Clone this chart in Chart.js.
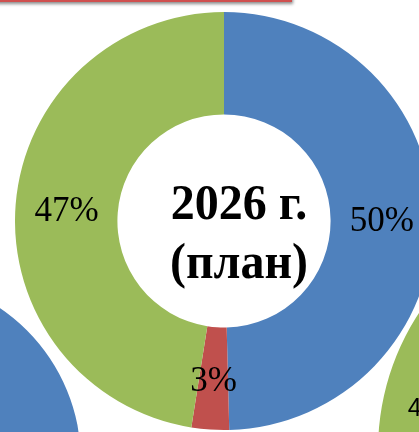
<!DOCTYPE html>
<html lang="ru">
<head>
    <meta charset="UTF-8">
    <title>2026 г. (план)</title>
    <script src="https://cdn.jsdelivr.net/npm/chart.js"></script>
    <style>
        html, body {
            margin: 0;
            padding: 0;
            width: 419px;
            height: 432px;
            overflow: hidden;
            background: #fff;
        }

        .frame {
            position: absolute;
            left: -4px;
            top: -30px;
            width: 296px;
            height: 32px;
            box-sizing: border-box;
            border: 2px solid #d0504f;
            background: #fff;
            box-shadow: 1px 2px 3px rgba(0, 0, 0, 0.45);
        }

        canvas {
            position: absolute;
        }

        #mainChart { left: 15px; top: 12px; }
        #leftChart { left: -289px; top: 276px; }
        #rightChart { left: 378px; top: 200px; }
    </style>
</head>
<body>
    <div class="frame"></div>
    <canvas id="leftChart" width="370" height="370"></canvas>
    <canvas id="rightChart" width="500" height="500"></canvas>
    <canvas id="mainChart" width="418" height="418"></canvas>

    <script>
        // segment colours (blue, red, green)
        const colors = ['#4f81bd', '#c0504d', '#9bbb59'];

        // main chart: 2026 plan
        const mainCategories = ['Сегмент 1', 'Сегмент 2', 'Сегмент 3'];
        const mainValues = [49.6, 2.9, 47.5];
        const mainLabels = ['50%', '3%', '47%'];
        const mainTitle = ['2026 г.', '(план)'];

        // neighbouring charts, only partly visible
        const leftValues = [50, 3, 47];
        const leftLabels = ['50%', '3%', '47%'];
        const rightValues = [54, 3, 43];
        const rightLabels = ['54%', '3%', '43%'];

        // draw percentage labels at each arc's centre
        const arcLabels = {
            id: 'arcLabels',
            afterDatasetsDraw(chart, args, opts) {
                const ctx = chart.ctx;
                const meta = chart.getDatasetMeta(0);
                ctx.save();
                ctx.fillStyle = '#000';
                ctx.font = opts.font;
                ctx.textAlign = 'center';
                ctx.textBaseline = 'middle';
                meta.data.forEach((arc, i) => {
                    const pos = arc.tooltipPosition();
                    ctx.fillText(opts.labels[i], pos.x, pos.y + 3);
                });
                ctx.restore();
            }
        };

        // title in the doughnut hole (text is a little taller than wide in the original)
        const centerText = {
            id: 'centerText',
            afterDraw(chart, args, opts) {
                if (!opts.lines) return;
                const ctx = chart.ctx;
                const area = chart.chartArea;
                const cx = (area.left + area.right) / 2;
                const cy = (area.top + area.bottom) / 2;
                ctx.save();
                ctx.fillStyle = '#000';
                ctx.font = opts.font;
                ctx.textAlign = 'center';
                ctx.textBaseline = 'alphabetic';
                opts.lines.forEach((line, i) => {
                    ctx.save();
                    ctx.translate(cx + opts.dx, cy + opts.baselines[i]);
                    ctx.scale(1, 1.05);
                    ctx.fillText(line, 0, 0);
                    ctx.restore();
                });
                ctx.restore();
            }
        };

        function makeDoughnut(id, categories, values, labels, labelFont, cutout, title) {
            return new Chart(document.getElementById(id), {
                type: 'doughnut',
                data: {
                    labels: categories,
                    datasets: [{
                        data: values,
                        backgroundColor: colors,
                        borderWidth: 0
                    }]
                },
                options: {
                    responsive: false,
                    animation: false,
                    devicePixelRatio: 1,
                    cutout: cutout,
                    layout: { padding: 0 },
                    plugins: {
                        legend: { display: false },
                        tooltip: { enabled: false },
                        arcLabels: { labels: labels, font: labelFont },
                        centerText: title || {}
                    }
                },
                plugins: [arcLabels, centerText]
            });
        }

        makeDoughnut('leftChart', mainCategories, leftValues, leftLabels,
            '35px "Liberation Serif"', '50%');
        makeDoughnut('rightChart', mainCategories, rightValues, rightLabels,
            '25px "Liberation Sans"', '60%');
        makeDoughnut('mainChart', mainCategories, mainValues, mainLabels,
            '35px "Liberation Serif"', '51%',
            { lines: mainTitle, font: 'bold 48px "Liberation Serif"', dx: 15, baselines: [-2, 57] });
    </script>
</body>
</html>
